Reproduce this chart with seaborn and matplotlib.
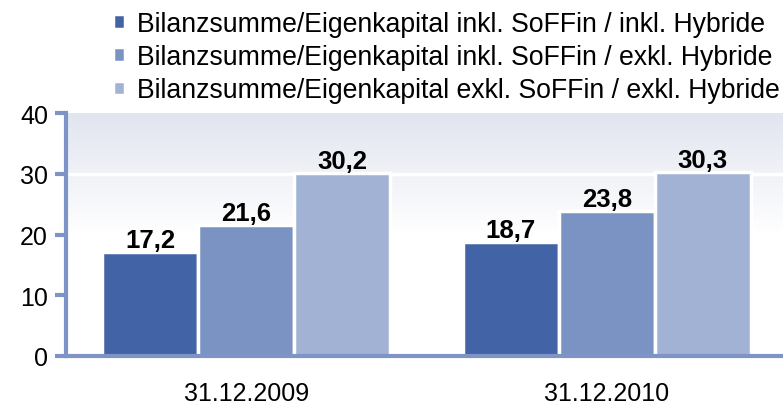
import numpy as np
import pandas as pd
import seaborn as sns
import matplotlib.pyplot as plt
from matplotlib.colors import LinearSegmentedColormap

# Chart data
dates = ['31.12.2009', '31.12.2010']
series = ['Bilanzsumme/Eigenkapital inkl. SoFFin / inkl. Hybride',
          'Bilanzsumme/Eigenkapital inkl. SoFFin / exkl. Hybride',
          'Bilanzsumme/Eigenkapital exkl. SoFFin / exkl. Hybride']
inkl_inkl = [17.2, 18.7]
inkl_exkl = [21.6, 23.8]
exkl_exkl = [30.2, 30.3]
yticks = [0, 10, 20, 30, 40]

colors = ['#4263a6', '#7b93c3', '#a2b2d4']
axis_blue = '#7f94c6'

sns.set_theme(style='white')
plt.rcParams['font.family'] = ['Liberation Sans', 'DejaVu Sans']
plt.rcParams['text.color'] = 'black'
plt.rcParams['xtick.labelcolor'] = 'black'
plt.rcParams['ytick.labelcolor'] = 'black'

df = pd.DataFrame({
    'Datum': dates * 3,
    'Serie': [series[0]] * 2 + [series[1]] * 2 + [series[2]] * 2,
    'Wert': inkl_inkl + inkl_exkl + exkl_exkl,
})

fig = plt.figure(figsize=(7.83, 4.06), dpi=100)
ax = fig.add_axes([66 / 783, 49 / 406, 721 / 783, 243 / 406])

# gradient background (light blue-grey at top, white at bottom)
cmap = LinearSegmentedColormap.from_list('bg', ['#ffffff', '#ffffff', '#e1e5ef'])
grad = np.linspace(0, 1, 256).reshape(-1, 1)
ax.imshow(grad, cmap=cmap, origin='lower', aspect='auto',
          extent=[0, 1, 0, 1], transform=ax.transAxes, zorder=0)

sns.barplot(data=df, x='Datum', y='Wert', hue='Serie', palette=colors,
            width=0.8, edgecolor='white', linewidth=2.5, saturation=1,
            ax=ax, zorder=3)

for cont in ax.containers:
    ax.bar_label(cont, labels=[f'{v:.1f}'.replace('.', ',') for v in cont.datavalues],
                 fontsize=18.5, fontweight='bold', padding=0, color='black')

ax.set_xlim(-0.5, 1.5)
ax.set_ylim(0, 40)
ax.set_yticks(yticks)
for y in yticks[1:-1]:
    ax.axhline(y, color='white', lw=2.5, zorder=1)

ax.set_xlabel('')
ax.set_ylabel('')
ax.tick_params(axis='y', labelsize=18, direction='out', length=8, width=3,
               color=axis_blue, left=True, pad=5)
ax.tick_params(axis='x', labelsize=18, bottom=False, pad=12)
for s in ['top', 'right']:
    ax.spines[s].set_visible(False)
for s in ['left', 'bottom']:
    ax.spines[s].set_color(axis_blue)
    ax.spines[s].set_linewidth(3)
    ax.spines[s].set_zorder(4)

handles, labels = ax.get_legend_handles_labels()
ax.legend(handles, labels, loc='upper left', bbox_to_anchor=(97 / 783, 1.01),
          bbox_transform=fig.transFigure, frameon=False, fontsize=19.2,
          handlelength=0.45, handleheight=0.45, handletextpad=0.45,
          labelspacing=0.27, borderaxespad=0.2)

fig.savefig('out.png', dpi=100)
